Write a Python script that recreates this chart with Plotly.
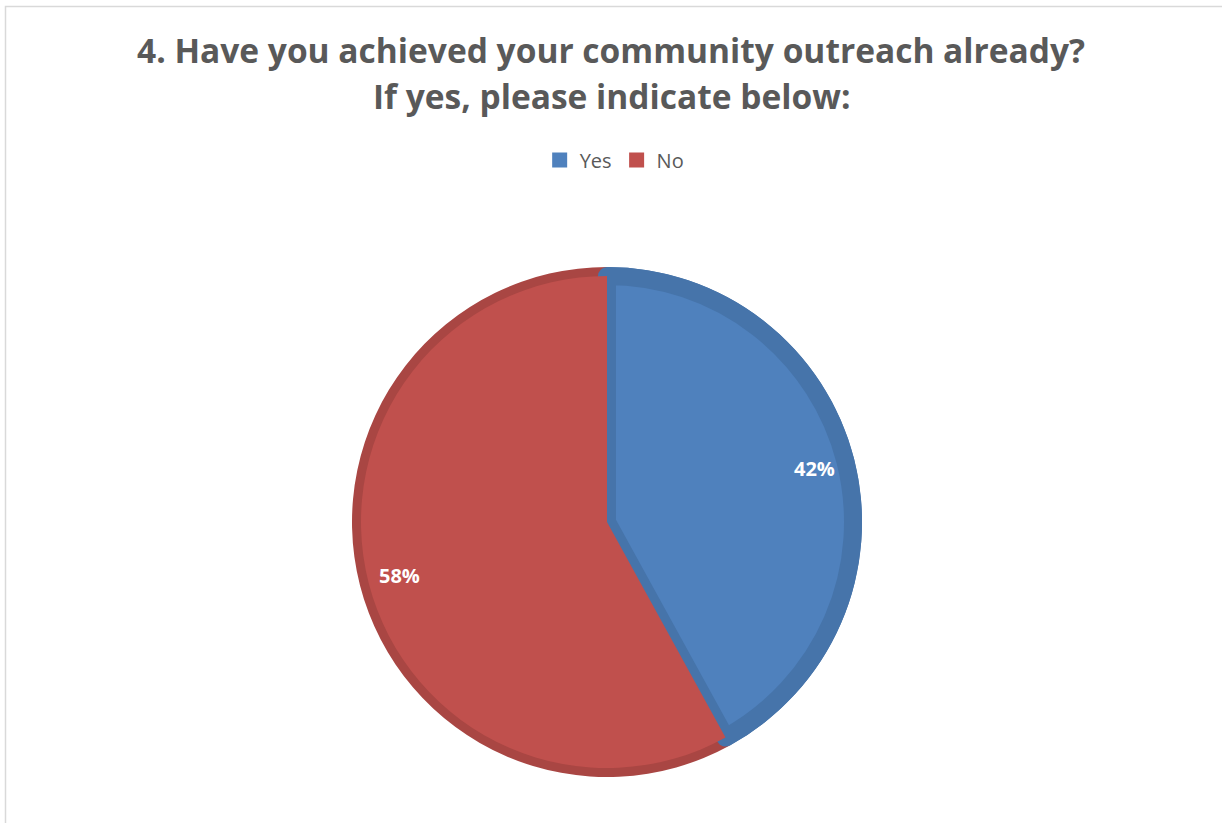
import math
import plotly.graph_objects as go

# Survey answers and their share of respondents (percent)
labels = ["Yes", "No"]
shares = [42, 58]

fill_colors = ["#4F81BD", "#C0504D"]
edge_colors = ["#4674AA", "#A94643"]

title_lines = [
    "4. Have you achieved your community outreach already?",
    "If yes, please indicate below:",
]

W, H = 1222, 823
cx, cy = 607, 522          # pie centre in pixels (from top-left)
R_outer, R_inner = 255, 246


def dom(r):
    return dict(
        x=[(cx - r) / W, (cx + r) / W],
        y=[(H - cy - r) / H, (H - cy + r) / H],
    )


fig = go.Figure()

# darker rim underneath
fig.add_trace(go.Pie(
    labels=labels, values=shares, sort=False, direction="clockwise",
    domain=dom(R_outer),
    marker=dict(colors=edge_colors, line=dict(width=0)),
    textinfo="none", hoverinfo="skip", showlegend=False,
))

# main slices with an inset edge
fig.add_trace(go.Pie(
    labels=labels, values=shares, sort=False, direction="clockwise",
    domain=dom(R_inner),
    marker=dict(colors=fill_colors, line=dict(color=edge_colors, width=[18, 0])),
    textinfo="none", showlegend=False,
))

# legend entries (square swatches)
for lab, col in zip(labels, fill_colors):
    fig.add_trace(go.Scatter(
        x=[None], y=[None], mode="markers", name=lab,
        marker=dict(symbol="square", size=15, color=col),
        showlegend=True,
    ))

# percentage labels near the outer edge of each slice, at the slice's mid angle
total = sum(shares)
cum = 0
r_lab = 0.84 * R_outer
for v in shares:
    mid = (cum + v / 2) / total * 2 * math.pi
    cum += v
    px = cx + r_lab * math.sin(mid)
    py = cy - r_lab * math.cos(mid)
    fig.add_annotation(text=f"<b>{round(v / total * 100)}%</b>",
                       x=px / W, y=1 - py / H, xref="paper", yref="paper",
                       xanchor="center", yanchor="middle", showarrow=False,
                       font=dict(family="Open Sans", size=20, color="white"))

title_y = [50, 96]
for line, ty in zip(title_lines, title_y):
    fig.add_annotation(text="<b>" + line + "</b>", x=0.5, y=1 - ty / H,
                       xref="paper", yref="paper", showarrow=False,
                       xanchor="center", yanchor="middle",
                       font=dict(family="Open Sans", size=33.5, color="#595959"))

# light chart frame
fig.add_shape(type="rect", xref="paper", yref="paper",
              x0=5.5 / W, x1=1.05, y0=-0.05, y1=1 - 6.5 / H,
              line=dict(color="#D9D9D9", width=1.5))

fig.update_layout(
    width=W, height=H,
    margin=dict(l=0, r=0, t=0, b=0),
    paper_bgcolor="white", plot_bgcolor="rgba(0,0,0,0)",
    xaxis=dict(visible=False), yaxis=dict(visible=False),
    legend=dict(orientation="h", x=0.503, xanchor="center",
                y=1 - 160 / H, yanchor="middle",
                font=dict(family="Open Sans", size=20, color="#595959"),
                itemwidth=30, traceorder="normal"),
)

fig.write_html("out.html")
